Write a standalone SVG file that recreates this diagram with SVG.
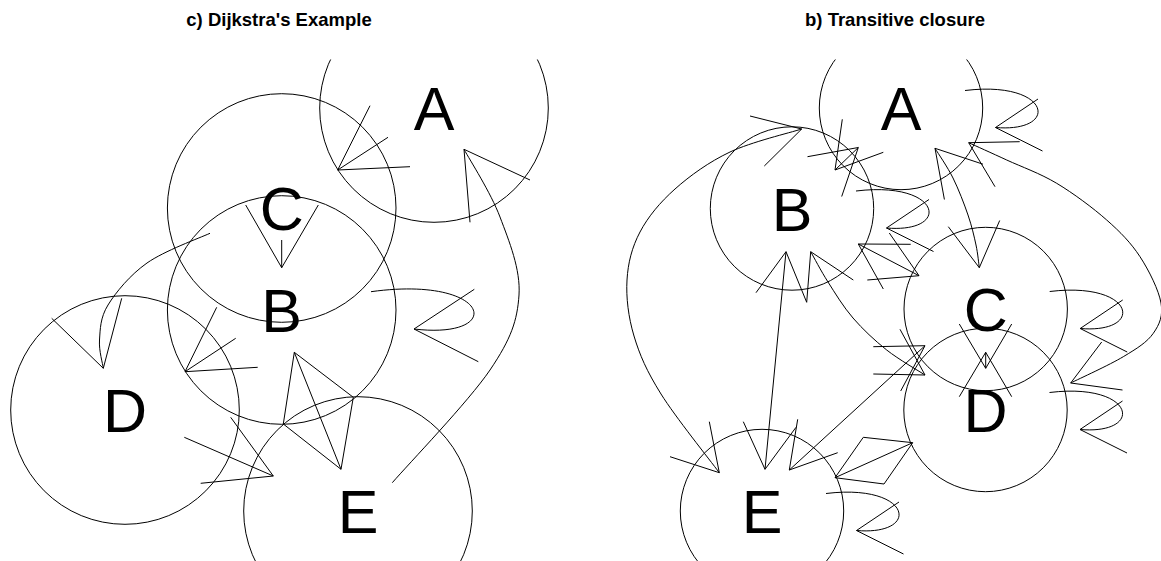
<svg xmlns="http://www.w3.org/2000/svg" width="1161" height="561" viewBox="0 0 1161 561">
<defs>
<clipPath id="plotclip"><rect x="0" y="59.5" width="1165" height="505"/></clipPath>
</defs>
<style>
.title{font-family:"Liberation Sans",Arial,sans-serif;font-weight:bold;font-size:18.5px;text-anchor:middle;fill:#000}
.node circle{fill:none;stroke:#000;stroke-width:1}
.node text{font-family:"Liberation Sans",Arial,sans-serif;font-size:61px;text-anchor:middle;fill:#000}
.edges path,.edges polyline,.edges line{fill:none;stroke:#000;stroke-width:1;stroke-linejoin:miter}
</style>
<rect width="1161" height="561" fill="#fff"/>
<text class="title" x="279" y="26">c) Dijkstra's Example</text>
<text class="title" x="895" y="26">b) Transitive closure</text>

<g id="left-graph" clip-path="url(#plotclip)">
  <g id="left-A" class="node"><circle cx="434" cy="108" r="114.3"/><text x="434" y="130">A</text></g>
  <g id="left-C" class="node"><circle cx="281.7" cy="208" r="114.3"/><text x="281.7" y="230">C</text></g>
  <g id="left-B" class="node"><circle cx="281.7" cy="310" r="114.3"/><text x="281.7" y="332">B</text></g>
  <g id="left-D" class="node"><circle cx="125" cy="410" r="114.3"/><text x="125" y="432">D</text></g>
  <g id="left-E" class="node"><circle cx="358" cy="511" r="114.3"/><text x="358" y="533">E</text></g>
  <g id="left-edges" class="edges">
    <!-- A / C -->
    <line x1="388" y1="137.3" x2="337.7" y2="170"/>
    <polyline points="370,105.7 337.7,170 410,166.7"/>
    <!-- C -> B -->
    <line x1="281.7" y1="240" x2="281.7" y2="267.7"/>
    <polyline points="245.7,205 281.7,267.7 318.3,205"/>
    <!-- A - E curve -->
    <path d="M392.3,482.7 C408.3,464.2 468.8,401.3 490,370 C511.2,338.7 517.3,320.5 519,295 C520.7,269.5 509.2,241.3 500,217 C490.8,192.7 470,160.3 464,149.3"/>
    <polyline points="470,222.3 464,149.3 530,180"/>
    <!-- B self loop -->
    <path d="M371,291.7 C491.7,275 506.7,340 414,329"/>
    <polyline points="474.3,289.3 414,329 478.3,361.7"/>
    <!-- B -> D curve -->
    <path d="M210,233.3 C199.5,238 164,251 147,263 C130,275 115.9,292.2 108,305 C100.1,317.8 100.25,329.4 99.5,340 C98.75,350.6 102.8,363.75 103.3,368.3"/>
    <polyline points="51.7,318.3 103.3,368.3 121.7,298.3"/>
    <!-- B -> D short -->
    <line x1="235.7" y1="338.3" x2="185" y2="371.7"/>
    <polyline points="216.7,307.3 185,371.7 257.7,367.3"/>
    <!-- B <-> E -->
    <line x1="294.3" y1="352.3" x2="341" y2="469.3"/>
    <polyline points="283.3,424 294.3,352.3 353.3,397.3"/>
    <polyline points="283.3,424 341,469.3 353.3,397.3"/>
    <!-- D -> E -->
    <line x1="184.3" y1="437.3" x2="273.3" y2="476"/>
    <polyline points="230.7,417.3 273.3,476 200.7,483.3"/>
  </g>
</g>

<g id="right-graph" clip-path="url(#plotclip)">
  <g id="right-A" class="node"><circle cx="901" cy="108" r="81.7"/><text x="901" y="130">A</text></g>
  <g id="right-B" class="node"><circle cx="792" cy="208.5" r="81.7"/><text x="792" y="230.5">B</text></g>
  <g id="right-C" class="node"><circle cx="985.7" cy="309" r="81.7"/><text x="985.7" y="331">C</text></g>
  <g id="right-D" class="node"><circle cx="985.5" cy="410" r="81.7"/><text x="985.5" y="432">D</text></g>
  <g id="right-E" class="node"><circle cx="762" cy="511" r="81.7"/><text x="762" y="533">E</text></g>
  <g id="right-edges" class="edges">
    <!-- self loops -->
    <path d="M965,90.5 C1051,80 1061,133 995.5,127.5"/>
    <polyline points="1038,99 995.5,127.5 1042.5,151"/>
    <path d="M856,191 C942,180.5 952,233.5 886.5,228"/>
    <polyline points="929,199.5 886.5,228 933.5,251.5"/>
    <path d="M1049.7,291.5 C1135.7,281 1145.7,334 1080.2,328.5"/>
    <polyline points="1122.7,300 1080.2,328.5 1127.2,352"/>
    <path d="M1049.5,392.5 C1135.5,382 1145.5,435 1080,429.5"/>
    <polyline points="1122.5,401 1080,429.5 1127,453"/>
    <path d="M826,493.5 C912,483 922,536 856.5,530.5"/>
    <polyline points="899,502 856.5,530.5 903.5,554"/>
    <!-- B <-> E big curve -->
    <path d="M801.7,129 C789.75,132.83 751.12,142 730,152 C708.88,162 690,175.67 675,189 C660,202.33 648,216.83 640,232 C632,247.17 628,262.67 627,280 C626,297.33 628.33,317 634,336 C639.67,355 646.78,371.22 661,394 C675.22,416.78 709.58,459.58 719.3,472.7"/>
    <polyline points="750,116 801.7,129 764.3,166"/>
    <polyline points="670,456.7 719.3,472.7 709.3,421.7"/>
    <!-- B <-> E straight -->
    <line x1="786" y1="251.7" x2="765" y2="469.3"/>
    <polyline points="756,292.7 786,251.7 806.7,302.3"/>
    <polyline points="743.3,421.7 765,469.3 796,427.3"/>
    <!-- B -> D curve -->
    <path d="M810.7,251.7 C813.58,256.75 820.95,270.95 828,282 C835.05,293.05 843.22,306.67 853,318 C862.78,329.33 874.7,340.5 886.7,350 C898.7,359.5 918.62,370.83 925,375"/>
    <polyline points="806.7,302.3 810.7,251.7 853.3,280"/>
    <polyline points="873.3,374 925,375 900,329.3"/>
    <!-- E -> C -->
    <line x1="789.3" y1="470" x2="925" y2="345.7"/>
    <polyline points="797.7,419.3 789.3,470 837.7,452.7"/>
    <polyline points="873.3,346.7 925,345.7 900.7,391"/>
    <!-- E <-> D -->
    <line x1="835" y1="477.7" x2="912.7" y2="442.7"/>
    <polyline points="863.3,437.3 835,477.7 884,484"/>
    <polyline points="863.3,437.3 912.7,442.7 884,484"/>
    <!-- A <-> B -->
    <line x1="835" y1="170" x2="858.3" y2="147.5"/>
    <polyline points="842.3,119.3 835,170 883.3,152.3"/>
    <polyline points="807.5,156.7 858.3,147.5 841.7,196.5"/>
    <!-- B <-> C -->
    <line x1="858.3" y1="244" x2="919" y2="275.7"/>
    <polyline points="910.7,244.3 858.3,244 883.3,289"/>
    <polyline points="867.3,280 919,275.7 889.3,233"/>
    <!-- A <-> C curve -->
    <path d="M935,148.3 C938,153.25 947.5,166.88 953,178 C958.5,189.12 964.17,203.83 968,215 C971.83,226.17 974.12,236.22 976,245 C977.88,253.78 978.75,263.92 979.3,267.7"/>
    <polyline points="944.4,199.5 935,148.3 983,164.2"/>
    <polyline points="948.3,226.7 979.3,267.7 999.7,220.5"/>
    <!-- A <-> D curve -->
    <path d="M968.7,142.7 C975.03,145.58 992.03,153.23 1006.7,160 C1021.37,166.77 1040.03,173.3 1056.7,183.3 C1073.37,193.3 1092.82,207.77 1106.7,220 C1120.58,232.23 1130.95,242.87 1140,256.7 C1149.05,270.53 1158.78,290.23 1161,303 C1163.22,315.77 1159.58,324.35 1153.3,333.3 C1147.02,342.25 1137.07,348.42 1123.3,356.7 C1109.53,364.98 1079.47,378.62 1070.7,383"/>
    <polyline points="1019.7,141.7 968.7,142.7 995,186.7"/>
    <polyline points="1101.7,342 1070.7,383 1122.5,390"/>
    <!-- C <-> D -->
    <line x1="985.7" y1="352.3" x2="985.7" y2="368.3"/>
    <polyline points="959.3,324 985.7,368.3 1011.7,324"/>
    <polyline points="959.3,396.7 985.7,352.3 1011.7,396.7"/>
  </g>
</g>
</svg>
